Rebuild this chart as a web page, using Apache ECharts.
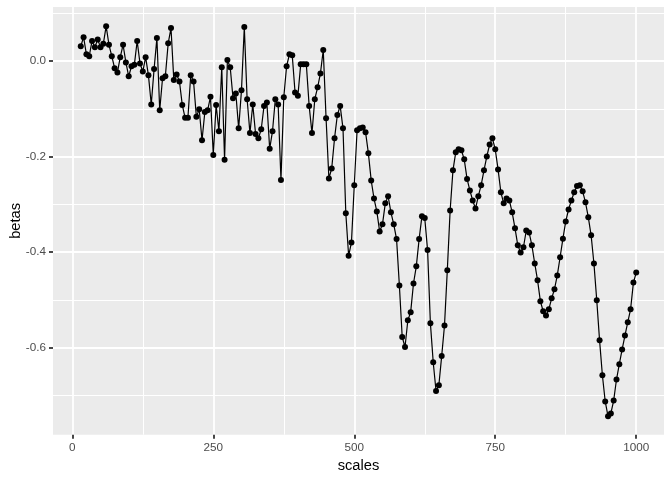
<!DOCTYPE html>
<html>
<head>
<meta charset="utf-8">
<script src="https://cdn.jsdelivr.net/npm/echarts@6/dist/echarts.min.js"></script>
<style>
  html, body { margin: 0; padding: 0; background: #fff; }
  #chart { width: 672px; height: 480px; }
</style>
</head>
<body>
<div id="chart"></div>
<script>
// x 值
var scales = [
  15, 20, 25, 30, 35, 40, 45, 50, 55, 60, 65, 70, 75, 80, 85, 90, 95, 100, 105, 110,
  115, 120, 125, 130, 135, 140, 145, 150, 155, 160, 165, 170, 175, 180, 185, 190, 195, 200, 205, 210,
  215, 220, 225, 230, 235, 240, 245, 250, 255, 260, 265, 270, 275, 280, 285, 290, 295, 300, 305, 310,
  315, 320, 325, 330, 335, 340, 345, 350, 355, 360, 365, 370, 375, 380, 385, 390, 395, 400, 405, 410,
  415, 420, 425, 430, 435, 440, 445, 450, 455, 460, 465, 470, 475, 480, 485, 490, 495, 500, 505, 510,
  515, 520, 525, 530, 535, 540, 545, 550, 555, 560, 565, 570, 575, 580, 585, 590, 595, 600, 605, 610,
  615, 620, 625, 630, 635, 640, 645, 650, 655, 660, 665, 670, 675, 680, 685, 690, 695, 700, 705, 710,
  715, 720, 725, 730, 735, 740, 745, 750, 755, 760, 765, 770, 775, 780, 785, 790, 795, 800, 805, 810,
  815, 820, 825, 830, 835, 840, 845, 850, 855, 860, 865, 870, 875, 880, 885, 890, 895, 900, 905, 910,
  915, 920, 925, 930, 935, 940, 945, 950, 955, 960, 965, 970, 975, 980, 985, 990, 995, 1000
];
// y 值
var betas = [
  0.031, 0.050, 0.014, 0.010, 0.042, 0.029, 0.045, 0.029, 0.036, 0.073,
  0.034, 0.010, -0.015, -0.024, 0.008, 0.034, -0.003, -0.032, -0.011, -0.008,
  0.042, -0.005, -0.022, 0.008, -0.030, -0.091, -0.017, 0.048, -0.103, -0.036,
  -0.032, 0.037, 0.069, -0.040, -0.028, -0.043, -0.092, -0.119, -0.119, -0.030,
  -0.043, -0.117, -0.101, -0.166, -0.107, -0.103, -0.075, -0.197, -0.092, -0.147,
  -0.013, -0.207, 0.002, -0.013, -0.078, -0.068, -0.141, -0.061, 0.071, -0.080,
  -0.151, -0.091, -0.153, -0.162, -0.143, -0.094, -0.087, -0.184, -0.147, -0.080,
  -0.091, -0.249, -0.076, -0.011, 0.014, 0.012, -0.066, -0.073, -0.007, -0.007,
  -0.007, -0.094, -0.151, -0.080, -0.055, -0.026, 0.023, -0.120, -0.246, -0.225,
  -0.162, -0.113, -0.094, -0.141, -0.319, -0.408, -0.380, -0.260, -0.145, -0.141,
  -0.139, -0.149, -0.193, -0.250, -0.288, -0.315, -0.357, -0.342, -0.298, -0.283,
  -0.317, -0.342, -0.373, -0.470, -0.578, -0.599, -0.543, -0.526, -0.466, -0.430,
  -0.373, -0.325, -0.329, -0.396, -0.549, -0.631, -0.691, -0.679, -0.618, -0.554,
  -0.438, -0.313, -0.229, -0.191, -0.185, -0.187, -0.206, -0.247, -0.271, -0.292,
  -0.309, -0.283, -0.260, -0.229, -0.200, -0.175, -0.162, -0.185, -0.227, -0.275,
  -0.298, -0.288, -0.292, -0.317, -0.350, -0.386, -0.401, -0.390, -0.355, -0.359,
  -0.386, -0.424, -0.459, -0.503, -0.524, -0.533, -0.520, -0.497, -0.478, -0.449,
  -0.411, -0.372, -0.336, -0.311, -0.292, -0.275, -0.262, -0.260, -0.273, -0.296,
  -0.327, -0.365, -0.424, -0.501, -0.585, -0.658, -0.713, -0.744, -0.738, -0.711,
  -0.667, -0.635, -0.604, -0.575, -0.547, -0.520, -0.464, -0.443
];
// 刻度
var xTicks = [0, 250, 500, 750, 1000];
var xTickLabels = ["0", "250", "500", "750", "1000"];
var xMinor = [125, 375, 625, 875];
var yTicks = [-0.6, -0.4, -0.2, 0];
var yTickLabels = ["-0.6", "-0.4", "-0.2", "0.0"];
var yMinor = [-0.7, -0.5, -0.3, -0.1, 0.1];

var font = "'Liberation Sans', Arial, sans-serif";
var xMin = -34.25, xMax = 1049.25;
var yMin = -0.7826, yMax = 0.1131;

function labelOf(ticks, labels) {
  return function (v) {
    for (var i = 0; i < ticks.length; i++) {
      if (Math.abs(ticks[i] - v) < 1e-9) return labels[i];
    }
    return "";
  };
}

var chart = echarts.init(document.getElementById("chart"), null, { renderer: "canvas" });

var option = {
  animation: false,
  backgroundColor: "#fff",
  grid: {
    left: 53,
    right: 8,
    top: 7,
    bottom: 45.3,
    containLabel: false,
    outerBoundsMode: "none",
    show: true,
    backgroundColor: "#EBEBEB",
    borderWidth: 0,
  },
  xAxis: [
    {
      type: "value",
      min: xMin,
      max: xMax,
      position: "bottom",
      name: "scales",
      nameLocation: "middle",
      nameGap: 24,
      nameMoveOverlap: false,
      nameTextStyle: { color: "#000", fontSize: 14.7, fontFamily: font },
      axisLine: { show: false, onZero: false },
      axisTick: {
        show: true,
        length: 4,
        customValues: xTicks,
        lineStyle: { color: "#333333", width: 1.8 },
      },
      axisLabel: {
        customValues: xTicks,
        formatter: labelOf(xTicks, xTickLabels),
        color: "#4D4D4D",
        fontSize: 11.7,
        fontFamily: font,
        margin: 7,
      },
      splitLine: { show: true, lineStyle: { color: "#fff", width: 1.8 } },
    },
    {
      // 次网格线
      type: "value",
      min: xMin,
      max: xMax,
      position: "top",
      axisLine: { show: false, onZero: false },
      axisTick: { show: false, customValues: xMinor },
      axisLabel: { show: false, customValues: xMinor },
      splitLine: { show: true, lineStyle: { color: "#fff", width: 1 } },
    },
  ],
  yAxis: [
    {
      type: "value",
      min: yMin,
      max: yMax,
      position: "left",
      name: "betas",
      nameLocation: "middle",
      nameGap: 30,
      nameMoveOverlap: false,
      nameTextStyle: { color: "#000", fontSize: 14.7, fontFamily: font },
      axisLine: { show: false, onZero: false },
      axisTick: {
        show: true,
        length: 4,
        customValues: yTicks,
        lineStyle: { color: "#333333", width: 1.8 },
      },
      axisLabel: {
        customValues: yTicks,
        formatter: labelOf(yTicks, yTickLabels),
        color: "#4D4D4D",
        fontSize: 11.7,
        fontFamily: font,
        margin: 7,
      },
      splitLine: { show: true, lineStyle: { color: "#fff", width: 1.8 } },
    },
    {
      type: "value",
      min: yMin,
      max: yMax,
      position: "right",
      axisLine: { show: false, onZero: false },
      axisTick: { show: false, customValues: yMinor },
      axisLabel: { show: false, customValues: yMinor },
      splitLine: { show: true, lineStyle: { color: "#fff", width: 1 } },
    },
  ],
  series: [
    {
      type: "line",
      xAxisIndex: 0,
      yAxisIndex: 0,
      data: scales.map(function (x, i) { return [x, betas[i]]; }),
      symbol: "circle",
      symbolSize: 6,
      showSymbol: true,
      showAllSymbol: true,
      lineStyle: { color: "#000", width: 1.2 },
      itemStyle: { color: "#000" },
      emphasis: { disabled: true },
      z: 5,
    },
  ],
};
chart.setOption(option);
</script>
</body>
</html>
